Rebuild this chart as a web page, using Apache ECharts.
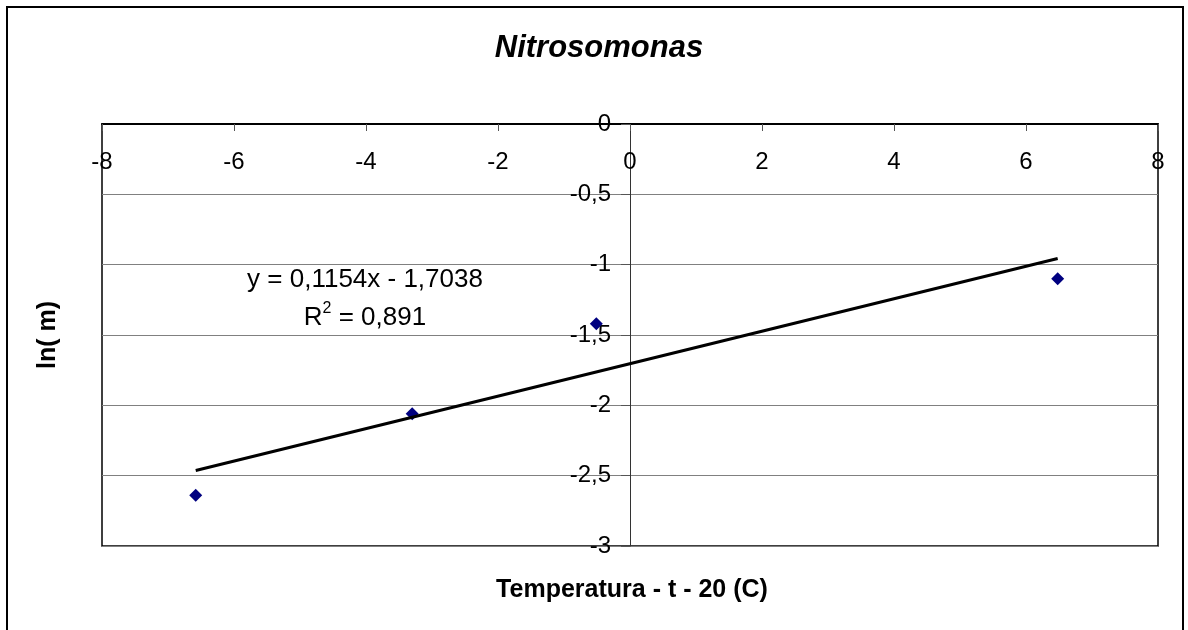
<!DOCTYPE html>
<html>
<head>
<meta charset="utf-8">
<script src="https://cdn.jsdelivr.net/npm/echarts@6/dist/echarts.min.js"></script>
<style>
  html, body { margin: 0; padding: 0; background: #fff; }
  #chart { width: 1188px; height: 630px; }
</style>
</head>
<body>
<div id="chart"></div>
<script>
// Measured points: temperature offset (t - 20) vs ln(m)
const xValues = [-6.58, -3.30, -0.51, 6.48];
const yValues = [-2.64, -2.06, -1.42, -1.10];

// Linear trendline reported on the chart
const trendSlope = 0.1154;
const trendIntercept = -1.7038;
const rSquared = 0.891;

// Axis ticks and their printed labels (comma decimal separator)
const xTicks = [-8, -6, -4, -2, 0, 2, 4, 6, 8];
const xTickLabels = ['-8', '-6', '-4', '-2', '0', '2', '4', '6', '8'];
const yTicks = [-3, -2.5, -2, -1.5, -1, -0.5, 0];
const yTickLabels = ['-3', '-2,5', '-2', '-1,5', '-1', '-0,5', '0'];

const titleText = 'Nitrosomonas';
const xAxisName = 'Temperatura - t - 20 (C)';
const yAxisName = 'ln( m)';

const FONT = "'Liberation Sans', Arial, Helvetica, sans-serif";

// Plot rectangle
const GRID = { left: 102, right: 30, top: 124, bottom: 84 };
const X_MIN = -8, X_MAX = 8;
const plotWidth = 1188 - GRID.left - GRID.right;
// the vertical axis crosses the horizontal one at x = 0
const yAxisShift = plotWidth * (0 - X_MIN) / (X_MAX - X_MIN);

function tickLabel(ticks, labels) {
  return function (v) {
    const i = ticks.findIndex(t => Math.abs(t - v) < 1e-9);
    return i >= 0 ? labels[i] : '';
  };
}

function comma(n, digits) {
  return n.toFixed(digits).replace('.', ',');
}

const points = xValues.map((x, i) => [x, yValues[i]]);
const xFrom = Math.min(...xValues);
const xTo = Math.max(...xValues);
const trendData = [xFrom, xTo].map(x => [x, trendSlope * x + trendIntercept]);

const eqLine = 'y = ' + comma(trendSlope, 4) + 'x ' + (trendIntercept < 0 ? '- ' : '+ ') + comma(Math.abs(trendIntercept), 4);
const r2Line = '{r|R}{sup|2}{r| = ' + comma(rSquared, 3) + '}';

const chart = echarts.init(document.getElementById('chart'), null, { renderer: 'canvas' });

chart.setOption({
  animation: false,
  backgroundColor: '#fff',
  title: {
    text: titleText,
    left: 594,
    top: 28,
    textAlign: 'center',
    textStyle: { fontFamily: FONT, fontSize: 31, fontWeight: 'bold', fontStyle: 'italic', color: '#000' }
  },
  grid: {
    left: GRID.left, right: GRID.right, top: GRID.top, bottom: GRID.bottom,
    show: true, borderColor: '#000', borderWidth: 1.5
  },
  xAxis: {
    type: 'value',
    position: 'top',
    min: X_MIN, max: X_MAX, interval: 2,
    axisLine: { onZero: false, lineStyle: { color: '#000', width: 2 } },
    axisTick: { show: true, inside: true, length: 7, lineStyle: { color: '#555', width: 1 } },
    axisLabel: {
      inside: true, margin: 26, fontSize: 24, color: '#000', fontFamily: FONT,
      showMinLabel: true, showMaxLabel: true,
      formatter: tickLabel(xTicks, xTickLabels)
    },
    splitLine: { show: false }
  },
  yAxis: {
    type: 'value',
    position: 'left',
    offset: -yAxisShift,
    min: -3, max: 0, interval: 0.5,
    axisLine: { show: true, onZero: false, lineStyle: { color: '#333', width: 1 } },
    axisTick: { show: true, inside: false, length: 9, lineStyle: { color: '#555', width: 1 } },
    axisLabel: {
      margin: 19, fontSize: 24, color: '#000', fontFamily: FONT,
      showMinLabel: true, showMaxLabel: true,
      formatter: tickLabel(yTicks, yTickLabels)
    },
    splitLine: { show: true, lineStyle: { color: '#808080', width: 1 } }
  },
  series: [
    {
      name: 'ln(m)',
      type: 'scatter',
      data: points,
      symbol: 'diamond',
      symbolSize: 13,
      itemStyle: { color: '#000080', opacity: 1 },
      z: 2
    },
    {
      name: 'Trendline',
      type: 'line',
      data: trendData,
      showSymbol: false,
      symbol: 'none',
      lineStyle: { color: '#000', width: 3 },
      silent: true,
      z: 3
    }
  ],
  graphic: [
    {
      type: 'rect',
      silent: true,
      z: -10,
      shape: { x: 7, y: 7, width: 1176, height: 700 },
      style: { fill: 'transparent', stroke: '#000', lineWidth: 2 }
    },
    {
      type: 'text',
      silent: true,
      x: 365, y: 280,
      style: {
        text: eqLine, font: '26px ' + FONT, fill: '#000',
        align: 'center', verticalAlign: 'middle'
      }
    },
    {
      type: 'text',
      silent: true,
      x: 365, y: 316,
      style: {
        text: r2Line, fill: '#000', align: 'center', verticalAlign: 'middle',
        rich: {
          r: { fontFamily: FONT, fontSize: 26, lineHeight: 30, verticalAlign: 'bottom' },
          sup: { fontFamily: FONT, fontSize: 16, lineHeight: 30, verticalAlign: 'top' }
        }
      }
    },
    {
      type: 'text',
      silent: true,
      x: 632, y: 590,
      style: {
        text: xAxisName, font: 'bold 25px ' + FONT, fill: '#000',
        align: 'center', verticalAlign: 'middle'
      }
    },
    {
      type: 'text',
      silent: true,
      x: 48, y: 335,
      rotation: Math.PI / 2,
      style: {
        text: yAxisName, font: 'bold 25px ' + FONT, fill: '#000',
        align: 'center', verticalAlign: 'middle'
      }
    }
  ]
});
</script>
</body>
</html>
